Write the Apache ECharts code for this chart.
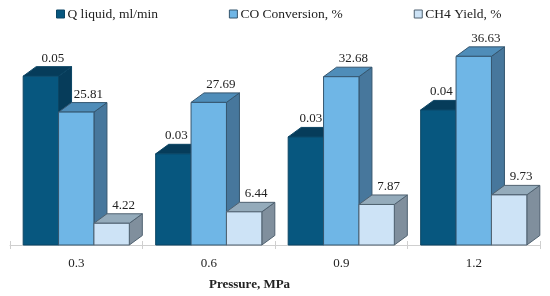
<!DOCTYPE html>
<html><head><meta charset="utf-8">
<style>html,body{margin:0;padding:0;background:#fff}#c{width:550px;height:296px}</style>
<script src="https://cdn.jsdelivr.net/npm/echarts@6/dist/echarts.min.js"></script>
</head><body><div id="c"></div>
<script>
const categories = ['0.3','0.6','0.9','1.2'];
const qLiquid = [0.05,0.027,0.032,0.04];
const coConversion = [25.81,27.69,32.68,36.63];
const ch4Yield = [4.22,6.44,7.87,9.73];
const FONT = '"Liberation Serif", serif';
const DX = 13, DY = 9.5, BAR = 0.267;
const qLabelShift = [12,3,5,3];

function bar3d(offset, decimals, c, shifts) {
  return function (params, api) {
    const p = api.coord([api.value(0), api.value(1)]);
    const base = api.coord([api.value(0), 0]);
    const band = api.size([1, 0])[0];
    const w = band * BAR;
    const x = p[0] + (offset - 0.5) * w;
    const y = p[1], b = base[1];
    const st = (fill) => ({ fill, stroke: c.edge, lineWidth: 1 });
    const shift = shifts ? shifts[params.dataIndex] : 12;
    return { type: 'group', children: [
      { type: 'polygon', shape: { points: [[x + w, y], [x + w + DX, y - DY], [x + w + DX, b - DY], [x + w, b]] }, style: st(c.side) },
      { type: 'polygon', shape: { points: [[x, y], [x + DX, y - DY], [x + w + DX, y - DY], [x + w, y]] }, style: st(c.top) },
      { type: 'rect', shape: { x, y, width: w, height: b - y }, style: st(c.front) },
      { type: 'text', z2: 100, style: { text: api.value(1).toFixed(decimals), x: x + w / 2 + shift, y: y - 18,
        textAlign: 'center', textVerticalAlign: 'middle', fill: '#222', fontSize: 13, fontFamily: FONT } }
    ] };
  };
}
function pairs(a) { return a.map((v, i) => [i, v]); }
const chart = echarts.init(document.getElementById('c'), null, { renderer: 'canvas' });
const palette = [
  { front: '#07577f', top: '#063c5a', side: '#063c5a', edge: '#0b4564' },
  { front: '#6fb6e6', top: '#4f8db9', side: '#47779c', edge: '#35566f' },
  { front: '#cde3f6', top: '#94abbb', side: '#808f9d', edge: '#4f6170' }
];
const names = ['Q liquid, ml/min','CO Conversion, %','CH4 Yield, %'];
chart.setOption({
  animation: false,
  backgroundColor: '#fff',
  title: { text: 'Pressure, MPa', left: 204, top: 273, textStyle: { fontFamily: FONT, fontSize: 13, fontWeight: 'bold', color: '#222' } },
  legend: { left: 56, top: 7, padding: 0, itemWidth: 8, itemHeight: 8, itemGap: 71, icon: 'rect',
    textStyle: { fontFamily: FONT, fontSize: 13.5, color: '#222', padding: [0,0,0,-2] },
    data: names.map((n, i) => ({ name: n, itemStyle: { color: palette[i].front, borderColor: palette[i].edge, borderWidth: 1 } })) },
  grid: { left: 10, width: 530, top: 39, height: 206 },
  xAxis: [
    { type: 'category', data: categories, axisLine: { lineStyle: { color: '#cfcfcf' } },
      axisTick: { show: true, length: 4, lineStyle: { color: '#cfcfcf' } },
      axisLabel: { fontFamily: FONT, fontSize: 13, color: '#222', margin: 12 } },
    { type: 'category', data: categories, position: 'bottom', axisLine: { show: false },
      axisTick: { show: true, inside: true, length: 4, lineStyle: { color: '#cfcfcf' } }, axisLabel: { show: false } }
  ],
  yAxis: [
    { type: 'value', min: 0, max: 40, show: false },
    { type: 'value', min: 0, max: 0.061, show: false }
  ],
  series: [
    { type: 'custom', name: names[0], xAxisIndex: 0, yAxisIndex: 1, data: pairs(qLiquid), itemStyle: { color: palette[0].front }, renderItem: bar3d(-1, 2, palette[0], qLabelShift), encode: { x: 0, y: 1 } },
    { type: 'custom', name: names[1], xAxisIndex: 0, yAxisIndex: 0, data: pairs(coConversion), itemStyle: { color: palette[1].front }, renderItem: bar3d(0, 2, palette[1]), encode: { x: 0, y: 1 } },
    { type: 'custom', name: names[2], xAxisIndex: 0, yAxisIndex: 0, data: pairs(ch4Yield), itemStyle: { color: palette[2].front }, renderItem: bar3d(1, 2, palette[2]), encode: { x: 0, y: 1 } }
  ]
});
</script></body></html>
